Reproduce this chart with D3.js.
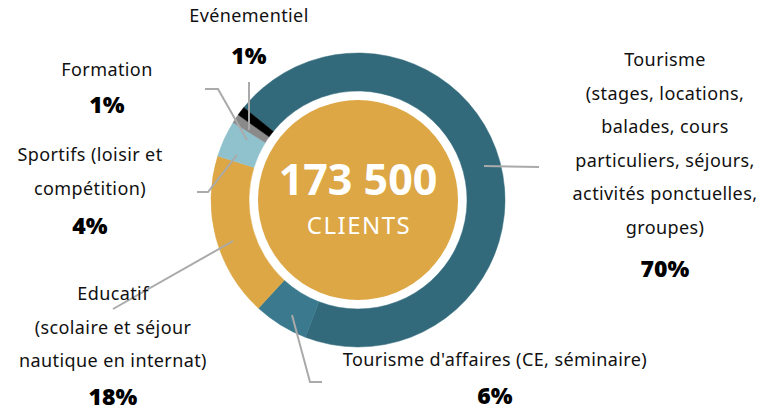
<!DOCTYPE html>
<html>
<head>
<meta charset="utf-8">
<script src="https://cdn.jsdelivr.net/npm/d3@7"></script>
<style>
  body { margin: 0; background: #fff; }
  text { font-family: "Noto Sans", "Open Sans", sans-serif; }
</style>
</head>
<body>
<div id="chart"></div>
<script>
var svgWidth = 776;
var svgHeight = 412;

// data
var categories = ["Tourisme", "Tourisme d'affaires", "Educatif", "Sportifs", "Formation", "Evénementiel"];
var shares = [70, 6, 18, 4, 1, 1];
var colors = ["#336a7b", "#3b7a8e", "#dca744", "#8fc2cd", "#8a8a8a", "#000000"];
var totalClients = "173 500";
var totalLabel = "CLIENTS";

// label text lines for each slice
var labelLines = [
    ["Tourisme", "(stages, locations,", "balades, cours", "particuliers, séjours,", "activités ponctuelles,", "groupes)"],
    ["Tourisme d'affaires (CE, séminaire)"],
    ["Educatif", "(scolaire et séjour", "nautique en internat)"],
    ["Sportifs (loisir et", "compétition)"],
    ["Formation"],
    ["Evénementiel"]
];
// where each label block sits: x center, first baseline, percent baseline
var labelPos = [
    {x: 665, y: 66, pct: 277},
    {x: 495, y: 366, pct: 404},
    {x: 113, y: 300, pct: 405},
    {x: 90, y: 161, pct: 234},
    {x: 107, y: 76, pct: 113},
    {x: 249, y: 22, pct: 64}
];
// leader line routes, in chart coords
var leaders = [
    [[484, 166], [539, 167]],
    [[292, 315], [310, 382], [322, 382]],
    [[233, 241], [113, 309]],
    [[237, 155], [208, 192], [197, 192]],
    [[247, 140], [218, 89], [205, 89]],
    [[249, 130], [249, 82]]
];

var cx = 358, cy = 200;
var outerR = 147, innerR = 109, coreR = 100;

var svg = d3.select("#chart")
    .append("svg")
    .attr("width", svgWidth)
    .attr("height", svgHeight);

var chartGroup = svg.append("g")
    .attr("transform", `translate(${cx},${cy})`);

var pie = d3.pie()
    .sort(null)
    .startAngle(-51 * Math.PI / 180)
    .endAngle(309 * Math.PI / 180)
    .value(d => d);

var arc = d3.arc()
    .innerRadius(innerR)
    .outerRadius(outerR);

chartGroup.selectAll("path.slice")
    .data(pie(shares))
    .enter()
    .append("path")
    .attr("class", "slice")
    .attr("d", arc)
    .attr("fill", (d, i) => colors[i])
    .attr("stroke", (d, i) => colors[i])
    .attr("stroke-width", 0.5);

// inner disc
chartGroup.append("circle")
    .attr("r", coreR)
    .attr("fill", colors[2]);

chartGroup.append("text")
    .attr("text-anchor", "middle")
    .attr("y", -5)
    .attr("fill", "#fff")
    .style("font-size", "43px")
    .style("font-weight", "bold")
    .text(totalClients);

chartGroup.append("text")
    .attr("text-anchor", "middle")
    .attr("x", 1)
    .attr("y", 34)
    .attr("fill", "#fff")
    .style("font-size", "24px")
    .style("letter-spacing", "1.5px")
    .text(totalLabel);

// leader lines
var line = d3.line();
svg.selectAll("path.leader")
    .data(leaders)
    .enter()
    .append("path")
    .attr("class", "leader")
    .attr("d", d => line(d))
    .attr("fill", "none")
    .attr("stroke", "#aaaaaa")
    .attr("stroke-width", 2);

// labels
var lineGap = 33.5;
categories.forEach(function(c, i) {
    var p = labelPos[i];
    var g = svg.append("g");
    labelLines[i].forEach(function(t, j) {
        g.append("text")
            .attr("x", p.x)
            .attr("y", p.y + j * lineGap)
            .attr("text-anchor", "middle")
            .attr("fill", "#111")
            .style("font-size", "18px")
            .style("letter-spacing", "0.4px")
            .text(t);
    });
    g.append("text")
        .attr("x", p.x)
        .attr("y", p.pct)
        .attr("text-anchor", "middle")
        .attr("fill", "#000")
        .style("font-size", "23px")
        .style("font-weight", "900")
        .text(shares[i] + "%");
});
</script>
</body>
</html>
